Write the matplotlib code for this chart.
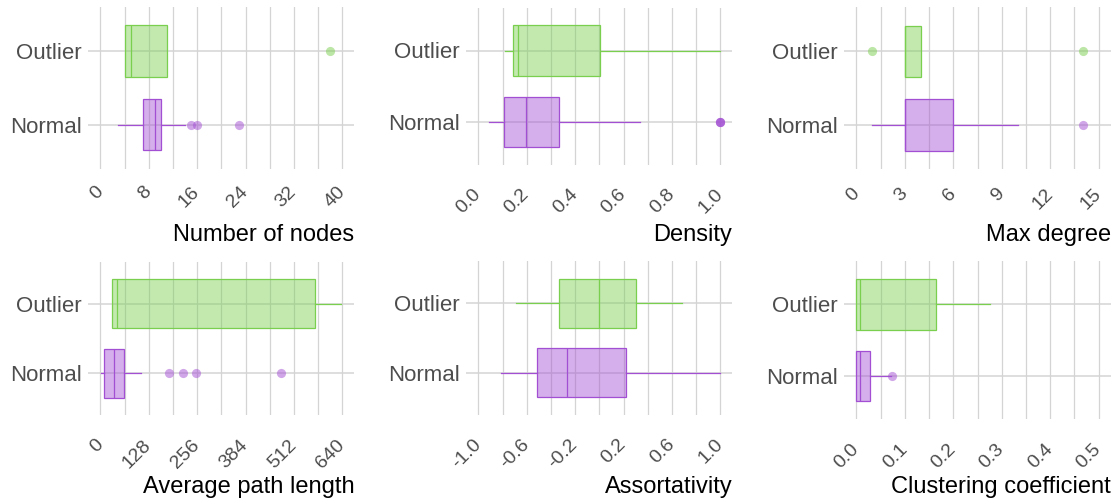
#!/usr/bin/env python3
"""Boxplots of graph statistics, normal vs outlier graphs."""

import matplotlib
matplotlib.use("Agg")
import matplotlib.pyplot as plt
from matplotlib.colors import to_rgba
import numpy as np

# categories (bottom to top)
groups = ["Normal", "Outlier"]

# box stats: [whislo, q1, median, q3, whishi]
nodes_normal = [3, 7, 9, 10, 14]
nodes_normal_fliers = [15, 16, 23]
nodes_outlier = [4, 4, 5, 11, 11]
nodes_outlier_fliers = [38]

density_normal = [0.044, 0.107, 0.196, 0.333, 0.667]
density_normal_fliers = [1.0, 1.0, 1.0]
density_outlier = [0.112, 0.143, 0.165, 0.502, 1.0]
density_outlier_fliers = []

degree_normal = [1, 3, 3, 6, 10]
degree_normal_fliers = [14]
degree_outlier = [3, 3, 3, 4, 4]
degree_outlier_fliers = [1, 14]

path_normal = [2, 11, 35, 62, 108]
path_normal_fliers = [181, 219, 254, 478]
path_outlier = [32, 32, 45, 569, 636]
path_outlier_fliers = []

assort_normal = [-0.815, -0.512, -0.264, 0.218, 1.0]
assort_normal_fliers = []
assort_outlier = [-0.686, -0.336, 0.0, 0.303, 0.683]
assort_outlier_fliers = []

clust_normal = [0.0, 0.0, 0.007, 0.029, 0.071]
clust_normal_fliers = [0.074]
clust_outlier = [0.0, 0.0, 0.007, 0.165, 0.275]
clust_outlier_fliers = []

# axis ticks / labels
nodes_ticks = [0, 8, 16, 24, 32, 40]
density_ticks = [0.0, 0.2, 0.4, 0.6, 0.8, 1.0]
degree_ticks = [0, 3, 6, 9, 12, 15]
path_ticks = [0, 128, 256, 384, 512, 640]
assort_ticks = [-1.0, -0.6, -0.2, 0.2, 0.6, 1.0]
clust_ticks = [0.0, 0.1, 0.2, 0.3, 0.4, 0.5]

W, H = 1119, 504
GREEN = "#7ACF4F"
PURPLE = "#A34FD3"
GRID = "#D4D4D4"

plt.rcParams["font.family"] = ["Liberation Sans", "DejaVu Sans"]


def stats(vals, fliers):
    lo, q1, med, q3, hi = vals
    return dict(whislo=lo, q1=q1, med=med, q3=q3, whishi=hi, fliers=fliers)


def draw_box(ax, st, pos, color):
    ax.bxp([st], positions=[pos], widths=0.7, orientation="horizontal",
           patch_artist=True, showcaps=False,
           boxprops=dict(facecolor=to_rgba(color, 0.45), edgecolor=color, linewidth=0.9),
           medianprops=dict(color=color, linewidth=0.9),
           whiskerprops=dict(color=color, linewidth=0.9),
           flierprops=dict(marker="o", markerfacecolor=to_rgba(color, 0.5),
                           markeredgecolor="none", markersize=6.6))


def panel(rect, title, normal, outlier, ticks, labels, step, pad):
    x0, y0, x1, y1 = rect
    ax = fig.add_axes([x0 / W, 1 - y1 / H, (x1 - x0) / W, (y1 - y0) / H])
    draw_box(ax, stats(*normal), 1, PURPLE)
    draw_box(ax, stats(*outlier), 2, GREEN)

    span = ticks[-1] - ticks[0]
    ax.set_xlim(ticks[0] - 0.05 * span, ticks[-1] + 0.05 * span)
    ax.set_ylim(0.4, 2.6)
    ax.set_xticks(ticks, labels=labels)
    ax.set_xticks(np.arange(ticks[0], ticks[-1] + step / 2, step), minor=True)
    ax.set_yticks([1, 2], labels=groups)
    ax.set_axisbelow(True)
    ax.grid(axis="x", which="both", color=GRID, linewidth=0.9)
    ax.grid(axis="y", which="major", color=GRID, linewidth=1.1)
    for s in ax.spines.values():
        s.set_visible(False)
    ax.tick_params(axis="both", which="both", length=0)
    ax.tick_params(axis="y", labelsize=16, labelcolor="#4D4D4D", pad=4.7)
    ax.tick_params(axis="x", labelsize=14, labelcolor="#4D4D4D", pad=pad)
    for lab in ax.get_xticklabels():
        lab.set_rotation(45)
        lab.set_ha("right")
        lab.set_va("center")
        lab.set_rotation_mode("anchor")

    base = 241 if y1 < 250 else 493
    fig.text(x1 / W, 1 - base / H, title, ha="right", va="baseline",
             fontsize=17, color="black")
    return ax


fig = plt.figure(figsize=(W / 100, H / 100), dpi=100)

panel((88.2, 6.6, 354.4, 168.8), "Number of nodes",
      (nodes_normal, nodes_normal_fliers), (nodes_outlier, nodes_outlier_fliers),
      nodes_ticks, [str(t) for t in nodes_ticks], 4, 14.9)
panel((466.2, 7.6, 732.4, 164.9), "Density",
      (density_normal, density_normal_fliers), (density_outlier, density_outlier_fliers),
      density_ticks, [f"{t:.1f}" for t in density_ticks], 0.1, 18.9)
panel((844.2, 7.4, 1110.8, 169.0), "Max degree",
      (degree_normal, degree_normal_fliers), (degree_outlier, degree_outlier_fliers),
      degree_ticks, [str(t) for t in degree_ticks], 1.5, 16.0)
panel((88.2, 261.7, 354.4, 415.0), "Average path length",
      (path_normal, path_normal_fliers), (path_outlier, path_outlier_fliers),
      path_ticks, [str(t) for t in path_ticks], 64, 19.7)
panel((466.2, 261.4, 732.4, 414.6), "Assortativity",
      (assort_normal, assort_normal_fliers), (assort_outlier, assort_outlier_fliers),
      assort_ticks, [f"{t:.1f}" for t in assort_ticks], 0.2, 19.6)
panel((844.2, 261.2, 1110.8, 419.4), "Clustering coefficient",
      (clust_normal, clust_normal_fliers), (clust_outlier, clust_outlier_fliers),
      clust_ticks, [f"{t:.1f}" for t in clust_ticks], 0.05, 19.5)

fig.savefig("out.png", dpi=100)
